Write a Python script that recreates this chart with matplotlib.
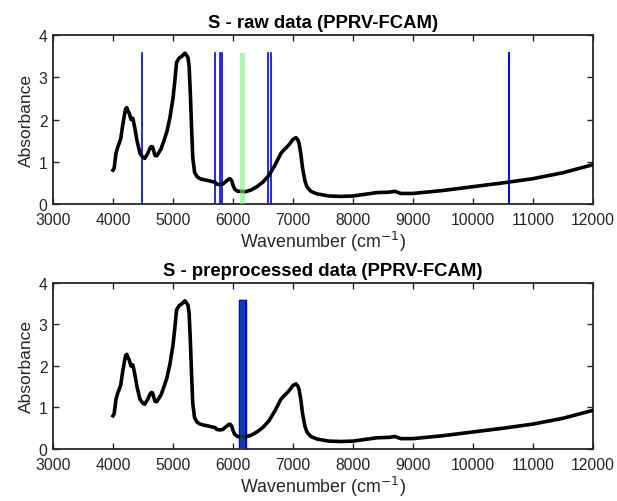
import matplotlib
matplotlib.use('Agg')
import matplotlib.pyplot as plt
import numpy as np

plt.rcParams['font.family'] = ['Liberation Sans', 'DejaVu Sans']

# spectrum (wavenumber, absorbance)
wn = [4000, 4020, 4050, 4080, 4100, 4130, 4160, 4190, 4210, 4230, 4250, 4270, 4300, 4330,
      4350, 4370, 4400, 4450, 4500, 4530, 4580, 4620, 4640, 4660, 4680, 4700, 4730, 4800,
      4850, 4900, 4950, 5000, 5030, 5060, 5100, 5150, 5200, 5250, 5270, 5290, 5310, 5330,
      5360, 5400, 5450, 5500, 5600, 5650, 5700, 5730, 5780, 5830, 5870, 5920, 5950, 5980,
      6000, 6030, 6080, 6150, 6200, 6300, 6400, 6500, 6600, 6700, 6800, 6850, 6900, 6950,
      7000, 7050, 7080, 7100, 7130, 7160, 7200, 7230, 7260, 7300, 7400, 7600, 7800, 8000,
      8200, 8400, 8600, 8700, 8800, 9000, 9500, 10000, 10500, 11000, 11500, 12000]
absb = [0.8, 0.85, 1.2, 1.35, 1.42, 1.55, 1.85, 2.1, 2.25, 2.28, 2.2, 2.15, 2.0, 2.03,
        1.9, 1.75, 1.5, 1.2, 1.1, 1.08, 1.2, 1.33, 1.36, 1.35, 1.25, 1.15, 1.14, 1.3,
        1.5, 1.72, 2.05, 2.5, 2.9, 3.35, 3.45, 3.5, 3.57, 3.47, 3.25, 2.6, 1.8, 1.1,
        0.75, 0.65, 0.6, 0.58, 0.55, 0.53, 0.52, 0.47, 0.46, 0.47, 0.52, 0.58, 0.6, 0.55,
        0.45, 0.35, 0.3, 0.3, 0.29, 0.33, 0.41, 0.52, 0.68, 0.92, 1.2, 1.28, 1.35, 1.43,
        1.53, 1.57, 1.52, 1.45, 1.2, 0.85, 0.55, 0.42, 0.36, 0.3, 0.24, 0.19, 0.18, 0.19,
        0.23, 0.27, 0.28, 0.3, 0.25, 0.25, 0.32, 0.41, 0.5, 0.6, 0.74, 0.93]

# selected variables
raw_lines = [4490, 5700, 5790, 5810, 6590, 6640, 10595, 10605]
raw_band = (6110, 6200)
pre_lines = [6110, 6118, 6126, 6134, 6142, 6150, 6158, 6166, 6174, 6206, 6214, 6222]
pre_band = (6110, 6200)
line_top = 3.57

titles = ['S - raw data (PPRV-FCAM)', 'S - preprocessed data (PPRV-FCAM)']

fig = plt.figure(figsize=(6.17, 5.02), dpi=100)
ax1 = fig.add_axes([0.0859, 0.5916, 0.875, 0.3367])
ax2 = fig.add_axes([0.0859, 0.1036, 0.875, 0.3307])

panels = [(ax1, titles[0], raw_lines, raw_band, 1.2, (0.45, 0.95, 0.45), 0.6),
          (ax2, titles[1], pre_lines, pre_band, 1.6, (0.1, 0.6, 0.2), 0.4)]
for ax, title, lines, band, lw, gcol, galpha in panels:
    ax.plot(wn, absb, color='black', lw=2.6, zorder=3)
    for v in lines:
        ax.plot([v, v], [0, line_top], color='blue', lw=lw, zorder=2)
    ax.fill_between(band, [0, 0], [line_top, line_top], color=gcol,
                    alpha=galpha, lw=0, zorder=4)
    ax.set_xlim(3000, 12000)
    ax.set_ylim(0, 4)
    ax.set_xticks(np.arange(3000, 12001, 1000))
    ax.set_yticks([0, 1, 2, 3, 4])
    ax.tick_params(direction='in', top=True, right=True, length=4.5, width=1,
                   labelsize=11.3, colors='#262626')
    ax.tick_params(axis='x', pad=6)
    ax.tick_params(axis='y', pad=4)
    for s in ax.spines.values():
        s.set_linewidth(1.3)
        s.set_color('#262626')
    ax.set_title(title, fontsize=13.3, fontweight='bold', pad=6)
    ax.set_xlabel('Wavenumber (cm$^{-1}$)', fontsize=12.8, color='#262626', labelpad=1)
    ax.set_ylabel('Absorbance', fontsize=12.5, color='#262626', labelpad=3)

fig.savefig('out.png', dpi=100)
